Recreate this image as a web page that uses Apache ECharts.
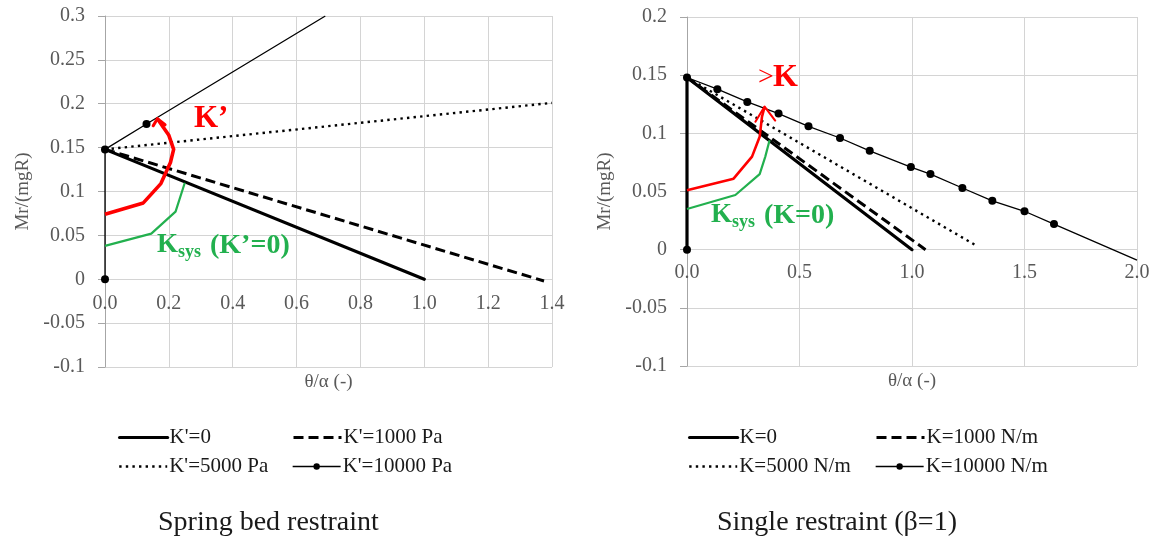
<!DOCTYPE html>
<html>
<head>
<meta charset="utf-8">
<title>Restraint moment vs rotation</title>
<script src="https://cdn.jsdelivr.net/npm/echarts@6/dist/echarts.min.js"></script>
<style>
  html, body { margin: 0; padding: 0; background: #ffffff; }
  #chart { width: 1155px; height: 542px; }
</style>
</head>
<body>
<div id="chart"></div>
<script>
// ---- data: left panel (spring bed restraint), points are [θ/α, Mr/(mgR)]
const leftNames = ["K'=0", "K'=1000 Pa", "K'=5000 Pa", "K'=10000 Pa"]
const leftK0 = [[0, 0.148], [1.0, 0]]
const leftK1000 = [[0, 0.148], [1.375, -0.002]]
const leftK5000 = [[0, 0.148], [1.4, 0.201]]
const leftK10000 = [[0, 0], [0, 0.148], [0.13, 0.177], [0.69, 0.3]]
const leftRed = [[0, 0.074], [0.12, 0.087], [0.175, 0.109], [0.205, 0.133], [0.215, 0.148], [0.2, 0.164], [0.164, 0.183]]
const leftRedArrow = [[0.151, 0.175], [0.164, 0.183], [0.188, 0.176]]
const leftGreen = [[0, 0.038], [0.145, 0.052], [0.221, 0.077], [0.25, 0.11]]

// ---- data: right panel (single restraint)
const rightNames = ['K=0', 'K=1000 N/m', 'K=5000 N/m', 'K=10000 N/m']
const rightK0 = [[0, 0], [0, 0.148], [1.0, 0]]
const rightK1000 = [[0, 0.148], [1.06, 0]]
const rightK5000 = [[0, 0.148], [1.29, 0.003]]
const rightK10000 = [
  [0, 0], [0, 0.148], [0.135, 0.138], [0.268, 0.127], [0.407, 0.117], [0.54, 0.106],
  [0.68, 0.096], [0.812, 0.085], [0.995, 0.071], [1.082, 0.065], [1.224, 0.053],
  [1.357, 0.042], [1.5, 0.033], [1.631, 0.022], [2.0, -0.009],
]
const rightRed = [[0, 0.051], [0.207, 0.061], [0.289, 0.08], [0.323, 0.097], [0.333, 0.114], [0.345, 0.123]]
const rightRedArrow = [[0.304, 0.11], [0.345, 0.123], [0.392, 0.111]]
const rightGreen = [[0, 0.035], [0.215, 0.047], [0.323, 0.065], [0.348, 0.08], [0.367, 0.094]]

// axis ranges
const leftX = { min: 0, max: 1.4, step: 0.2 }
const leftY = { min: -0.1, max: 0.3, step: 0.05 }
const rightX = { min: 0, max: 2.0, step: 0.5 }
const rightY = { min: -0.1, max: 0.2, step: 0.05 }

const SERIF = '"Liberation Serif", "DejaVu Serif", serif'
const RED = '#ff0000'
const GREEN = '#22b04e'
const GRID = '#d4d4d4'
const AXIS = '#a6a6a6'
const LABEL = '#595959'

// line looks shared by both panels: K0, K1000, K5000, K10000
const STYLES = [
  { color: '#000', width: 3.2, cap: 'round' },
  { color: '#000', width: 3, type: [10, 5] },
  { color: '#000', width: 2.4, type: [2.4, 4.2] },
  { color: '#000', width: 1.3 },
]

const chart = echarts.init(document.getElementById('chart'), null, { renderer: 'canvas' })

// x labels sit just under the y=0 line, so pull them up from the bottom edge
const xAxisOf = (range, idx, labelMargin) => ({
  type: 'value',
  gridIndex: idx,
  min: range.min,
  max: range.max,
  interval: range.step,
  axisLine: { show: false, onZero: false },
  axisTick: { show: false },
  splitLine: { lineStyle: { color: GRID, width: 1 } },
  axisLabel: {
    formatter: (v) => v.toFixed(1),
    fontFamily: SERIF, fontSize: 20, color: LABEL, margin: labelMargin,
  },
  name: 'θ/α (-)',
  nameLocation: 'middle',
  nameGap: 5,
  nameTextStyle: { fontFamily: SERIF, fontSize: 19, color: LABEL },
})

const yAxisOf = (range, idx) => ({
  type: 'value',
  gridIndex: idx,
  min: range.min,
  max: range.max,
  interval: range.step,
  axisLine: { show: true, onZero: false, lineStyle: { color: AXIS, width: 1 } },
  axisTick: { show: true, length: 7, lineStyle: { color: AXIS } },
  splitLine: { lineStyle: { color: GRID, width: 1 } },
  axisLabel: {
    formatter: (v) => (Math.abs(v) < 1e-9 ? '0' : String(+v.toFixed(2))),
    fontFamily: SERIF, fontSize: 20, color: LABEL, margin: 20,
  },
  name: 'Mr/(mgR)',
  nameLocation: 'middle',
  nameGap: 72,
  nameTextStyle: { fontFamily: SERIF, fontSize: 19, color: LABEL },
})

// last point has no marker (line leaves the plot there)
const withOpenEnd = (pts) => pts.map((p, i) => (i === pts.length - 1 ? { value: p, symbol: 'none' } : p))

const lineSeries = (name, data, idx, style, extra = {}) => ({
  name,
  type: 'line',
  xAxisIndex: idx,
  yAxisIndex: idx,
  data,
  symbol: 'none',
  smooth: false,
  clip: true,
  animation: false,
  lineStyle: style,
  itemStyle: { color: style.color },
  emphasis: { disabled: true },
  ...extra,
})

const markerSeries = (name, data, idx) =>
  lineSeries(name, withOpenEnd(data), idx, STYLES[3], {
    symbol: 'circle',
    symbolSize: 8,
    showSymbol: true,
    itemStyle: { color: '#000' },
  })

const panelSeries = (names, k0, k1000, k5000, k10000, red, redArrow, green, idx, redWidth) => [
  lineSeries(names[0], k0, idx, STYLES[0]),
  lineSeries(names[1], k1000, idx, STYLES[1]),
  lineSeries(names[2], k5000, idx, STYLES[2]),
  markerSeries(names[3], k10000, idx),
  lineSeries('ksys', green, idx, { color: GREEN, width: 2.2 }, { z: 5 }),
  lineSeries('redCurve', red, idx, { color: RED, width: redWidth, join: 'round' }, { z: 6 }),
  lineSeries('redArrow', redArrow, idx, { color: RED, width: redWidth - 0.5, join: 'round', cap: 'round' }, { z: 6 }),
]

// one legend box per entry so the two columns line up like the original
const legendItem = (name, i, left, top) => ({
  data: [{
    name,
    lineStyle: { width: STYLES[i].width, type: STYLES[i].type || 'solid' },
    itemStyle: { opacity: i === 3 ? 1 : 0 },
  }],
  left, top,
  padding: 0,
  itemWidth: 48,
  itemHeight: 8,
  itemGap: 0,
  selectedMode: false,
  textStyle: { fontFamily: SERIF, fontSize: 21, color: '#1a1a1a', padding: [0, 0, 0, -3] },
})

const plainText = (text, left, top, size, color, weight, lineHeight) => ({
  text,
  left, top,
  padding: 0,
  textStyle: { fontFamily: SERIF, fontSize: size, fontWeight: weight, color, lineHeight },
})

// "Ksys (...)" label: subscript built from three pieces
const ksysLabel = (left, top, tail) => [
  plainText('K', left, top, 27, GREEN, 'bold', 31),
  plainText('sys', left + 21, top + 11, 18, GREEN, 'bold', 22),
  plainText(tail, left + 53, top - 0.5, 28, GREEN, 'bold', 32),
]

const option = {
  backgroundColor: '#ffffff',
  animation: false,
  grid: [
    { left: 105, top: 16, width: 447, height: 351 },
    { left: 687, top: 17, width: 450, height: 349 },
  ],
  xAxis: [xAxisOf(leftX, 0, -73), xAxisOf(rightX, 1, -103)],
  yAxis: [yAxisOf(leftY, 0), yAxisOf(rightY, 1)],
  legend: [
    legendItem(leftNames[0], 0, 118, 427),
    legendItem(leftNames[1], 1, 292, 427),
    legendItem(leftNames[2], 2, 118, 456),
    legendItem(leftNames[3], 3, 292, 456),
    legendItem(rightNames[0], 0, 688, 427),
    legendItem(rightNames[1], 1, 875, 427),
    legendItem(rightNames[2], 2, 688, 456),
    legendItem(rightNames[3], 3, 875, 456),
  ],
  title: [
    plainText('Spring bed restraint', 158, 508, 28, '#1a1a1a', 'normal', 30),
    plainText('Single restraint (β=1)', 717, 508, 28, '#1a1a1a', 'normal', 30),
    plainText('K’', 194, 102, 31, RED, 'bold', 34),
    ...ksysLabel(157, 230, '(K’=0)'),
    plainText('>', 758, 62, 28, RED, 'normal', 32),
    plainText('K', 773, 61, 32, RED, 'bold', 34),
    ...ksysLabel(711, 200, '(K=0)'),
  ],
  series: [
    ...panelSeries(leftNames, leftK0, leftK1000, leftK5000, leftK10000, leftRed, leftRedArrow, leftGreen, 0, 3.6),
    ...panelSeries(rightNames, rightK0, rightK1000, rightK5000, rightK10000, rightRed, rightRedArrow, rightGreen, 1, 2.6),
  ],
}

chart.setOption(option)
</script>
</body>
</html>
